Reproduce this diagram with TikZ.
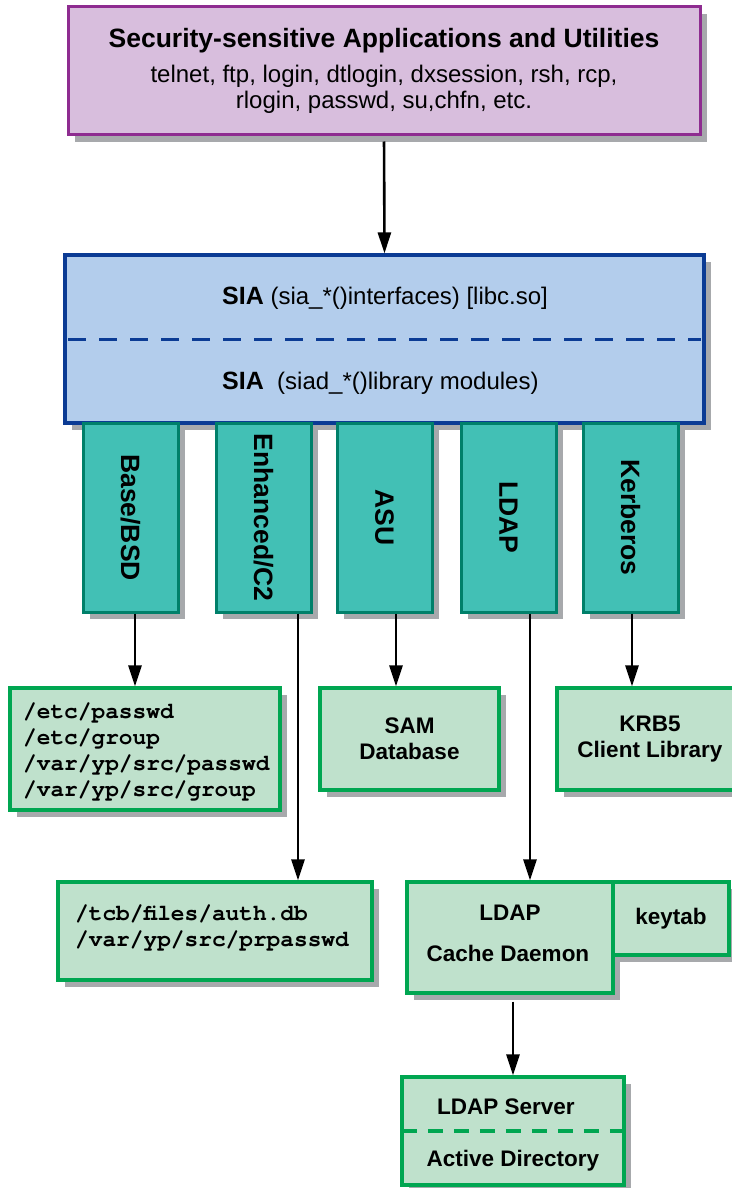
\documentclass[tikz,border=0pt]{standalone}
\usepackage{fontspec}
\setmainfont{Liberation Sans}
\newfontfamily\pathfont{texgyrecursor}[Extension = .otf, UprightFont = *-regular, BoldFont = *-bold]
\usetikzlibrary{arrows.meta}
\usetikzlibrary{shadows}
\definecolor{appfill}{HTML}{D8BEDD}
\definecolor{appline}{HTML}{8E2C90}
\definecolor{siafill}{HTML}{B3CDEC}
\definecolor{sialine}{HTML}{0B3B94}
\definecolor{modfill}{HTML}{42C0B5}
\definecolor{modline}{HTML}{00806A}
\definecolor{storefill}{HTML}{BFE1CC}
\definecolor{storeline}{HTML}{00A651}
\definecolor{shadowgray}{HTML}{A7A9AC}
\tikzset{
gray shadow/.style = { drop shadow = {shadow xshift = 7pt, shadow yshift = -7pt, fill = shadowgray, opacity = 1} },
app box/.style = { rectangle, draw = appline, fill = appfill, line width = 3pt, inner sep = 0pt, gray shadow, align = center, font = \fontsize{24}{26}\selectfont },
sia box/.style = { rectangle, draw = sialine, fill = siafill, line width = 3.2pt, inner sep = 0pt, gray shadow },
sia text/.style = { anchor = west, inner sep = 0pt, font = \fontsize{24}{28}\selectfont },
module/.style = { rectangle, draw = modline, fill = modfill, line width = 3pt, inner sep = 0pt, gray shadow, minimum width = 95pt, minimum height = 189pt, font = \fontsize{26.5}{30}\selectfont\bfseries },
store/.style = { rectangle, draw = storeline, fill = storefill, line width = 3.2pt, inner sep = 0pt, gray shadow, align = center, font = \fontsize{22.5}{26}\selectfont\bfseries },
path text/.style = { anchor = west, inner sep = 0pt, align = left, font = \fontsize{22.8}{26}\selectfont\pathfont\bfseries },
plain text/.style = { inner sep = 0pt, font = \fontsize{22.5}{26}\selectfont\bfseries },
link/.style = { draw = black, line width = 2.6pt, -{Triangle[length = 21pt, width = 13pt]} },
}
\begin{document}
\begin{tikzpicture}[x = 1pt, y = -1pt]
    \useasboundingbox (0, 0) rectangle (731, 1188);
    % applications
    \node[app box, minimum width = 632pt, minimum height = 128pt] (apps) at (384, 71)
        {{\fontsize{26.5}{30}\selectfont\bfseries Security-sensitive Applications and Utilities}\\[9pt]
         telnet, ftp, login, dtlogin, dxsession, rsh, rcp,\\
         rlogin, passwd, su,chfn, etc.};
    % sia layer
    \node[sia box, minimum width = 639pt, minimum height = 168pt] (sia) at (384.5, 339) {};
    \node[sia text] (sia top) at (222, 298) {\textbf{\fontsize{25}{28}\selectfont SIA} (sia\_*()interfaces) [libc.so]};
    \node[sia text] (sia bottom) at (222, 383) {\textbf{\fontsize{25}{28}\selectfont SIA}\ \ (siad\_*()library modules)};
    \draw[sialine, line width = 3pt, dash pattern = on 18pt off 13pt] ([xshift = 5pt]sia.west) -- ([xshift = -5pt]sia.east);
    % modules
    \node[module] (bsd)  at (130.5, 517.5) {\rotatebox{-90}{Base/BSD}};
    \node[module] (c2)   at (263.5, 517.5) {\rotatebox{-90}{Enhanced/C2}};
    \node[module] (asu)  at (384.5, 517.5) {\rotatebox{-90}{ASU}};
    \node[module] (ldap) at (508.5, 517.5) {\rotatebox{-90}{LDAP}};
    \node[module] (krb)  at (630.5, 517.5) {\rotatebox{-90}{Kerberos}};
    % stores
    \node[store, minimum width = 270pt, minimum height = 122pt] (etc) at (145, 749) {};
    \node[path text] (etc paths) at (23, 752) {/etc/passwd\\/etc/group\\/var/yp/src/passwd\\/var/yp/src/group};
    \node[store, minimum width = 314pt, minimum height = 98pt] (tcb) at (215, 931) {};
    \node[path text] (tcb paths) at (75, 928) {/tcb/files/auth.db\\/var/yp/src/prpasswd};
    \node[store, minimum width = 179pt, minimum height = 102pt] (sam) at (409.5, 739) {SAM\\Database};
    \node[store, minimum width = 188pt, minimum height = 102pt] (krb5) at (651, 739) {};
    \node[plain text, align = center] (krb5 text) at (650, 739) {KRB5\\Client Library};
    \node[store, minimum width = 206pt, minimum height = 111pt] (cache) at (510, 937.5) {};
    \node[plain text] (cache top) at (510, 913) {LDAP};
    \node[plain text] (cache bottom) at (508, 953) {Cache Daemon};
    \node[store, minimum width = 116pt, minimum height = 73pt] (keytab) at (671, 918.5) {keytab};
    \node[store, minimum width = 222pt, minimum height = 108pt] (server) at (513, 1131) {};
    \node[plain text] (server top) at (506, 1107) {LDAP Server};
    \node[plain text] (server bottom) at (513, 1161) {Active Directory};
    \draw[storeline, line width = 4pt, dash pattern = on 15pt off 11pt] ([xshift = 1.5pt]server.west) -- ([xshift = -1.5pt]server.east);
    % connectors
    \coordinate (bsd out)   at ([xshift = 4.5pt]bsd.south);
    \coordinate (c2 out)    at ([xshift = 34.5pt]c2.south);
    \coordinate (asu out)   at ([xshift = 11.5pt]asu.south);
    \coordinate (ldap out)  at ([xshift = 21.5pt]ldap.south);
    \coordinate (krb out)   at ([xshift = 1.5pt]krb.south);
    \coordinate (cache out) at (server.north |- cache.south);
    \draw[link, shorten < = 5pt] (apps.south) -- (sia.north);
    \draw[link] (bsd out) -- (bsd out |- etc.north);
    \draw[link] (c2 out) -- (c2 out |- tcb.north);
    \draw[link] (asu out) -- (asu out |- sam.north);
    \draw[link] (ldap out) -- (ldap out |- cache.north);
    \draw[link] (krb out) -- (krb out |- krb5.north);
    \draw[link, shorten < = 7pt] (cache out) -- (server.north);
\end{tikzpicture}
\end{document}
